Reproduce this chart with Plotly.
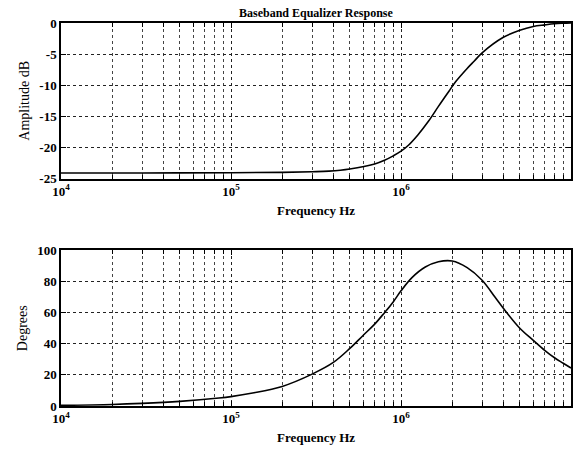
import plotly.graph_objects as go
from plotly.subplots import make_subplots

# ---- data ----
freq_amp = [1e4, 3e4, 1e5, 2e5, 3e5, 3.77e5, 5e5, 7e5, 8e5, 9e5, 1e6, 1.11e6,
            1.26e6, 1.45e6, 1.66e6, 1.91e6, 2.1e6, 2.45e6, 2.7e6, 3e6, 4e6, 5e6,
            6e6, 7e6, 8e6, 9e6, 1e7]
amp_db = [-24.1, -24.1, -24.05, -24.0, -23.9, -23.8, -23.45, -22.65, -22.06, -21.35,
          -20.6, -19.6, -17.95, -15.8, -13.4, -11.0, -9.4, -7.3, -6.1, -4.8, -2.3,
          -1.15, -0.55, -0.3, -0.12, -0.04, 0.0]

freq_phase = [1e4, 2e4, 3e4, 5e4, 8.5e4, 1e5, 1.34e5, 2e5, 3e5, 4e5, 5e5, 6e5,
              7e5, 8e5, 9e5, 1e6, 1.16e6, 1.39e6, 1.66e6, 2e6, 2.45e6, 3e6,
              3.57e6, 4e6, 5e6, 6e6, 7e6, 8e6, 9e6, 1e7]
phase_deg = [0.4, 1.0, 1.7, 3.0, 5.1, 6.0, 8.3, 12.6, 20.5, 28.0, 37.0, 45.5,
             52.6, 60.0, 66.9, 74.0, 82.5, 89.3, 92.7, 93.2, 88.9, 80.8,
             70.0, 62.8, 50.0, 42.2, 35.8, 31.0, 27.5, 24.4]

x_tickvals = [1e4, 1e5, 1e6, 1e7]
x_ticktext = ["10<sup>4</sup>", "10<sup>5</sup>", "10<sup>6</sup>", "10<sup>7</sup>"]
amp_ticks = [-25, -20, -15, -10, -5, 0]
amp_ticktext = ["-25", "-20", "-15", "-10", "-5", "0"]
deg_ticks = [0, 20, 40, 60, 80, 100]
minor_vals = [m * 10 ** e for e in (4, 5, 6) for m in range(2, 10)]

title_text = "Baseband Equalizer Response"
x_title = "Frequency Hz"
y_title_top = "Amplitude dB"
y_title_bot = "Degrees"

FONT = "Liberation Serif"

fig = make_subplots(rows=2, cols=1, vertical_spacing=0.1875)

fig.add_trace(go.Scatter(x=freq_amp, y=amp_db, mode="lines",
                         line=dict(color="black", width=1.6, shape="spline", smoothing=1.0),
                         showlegend=False), row=1, col=1)
fig.add_trace(go.Scatter(x=freq_phase, y=phase_deg, mode="lines",
                         line=dict(color="black", width=1.6, shape="spline", smoothing=1.0),
                         showlegend=False), row=2, col=1)

xcommon = dict(type="log", range=[4, 7], tickmode="array", tickvals=x_tickvals,
               ticktext=x_ticktext, showgrid=True, gridcolor="#222", gridwidth=1,
               griddash="dot", showline=True, linecolor="black", linewidth=1.5,
               mirror="allticks", ticks="inside", ticklen=5, tickcolor="black",
               tickfont=dict(family=FONT, size=13, color="black", weight="bold"),
               zeroline=False,
               minor=dict(tickmode="array", tickvals=minor_vals, showgrid=True,
                          gridcolor="#444", gridwidth=1, griddash="dot",
                          ticks="inside", ticklen=4, tickcolor="black"),
               title=dict(text=x_title, standoff=8,
                          font=dict(family=FONT, size=13, color="black", weight="bold")))

fig.update_xaxes(**xcommon)

ycommon = dict(showgrid=True, gridcolor="#222", gridwidth=1, griddash="dot",
               showline=True, linecolor="black", linewidth=1.5, mirror="allticks",
               ticks="inside", ticklen=5, tickcolor="black", zeroline=False,
               tickfont=dict(family=FONT, size=13, color="black", weight="bold"))
fig.update_yaxes(**ycommon)
fig.update_yaxes(range=[-25, 0], tickmode="array", tickvals=amp_ticks,
                 ticktext=amp_ticktext, row=1, col=1,
                 title=dict(text=y_title_top, standoff=6,
                            font=dict(family=FONT, size=14, color="black")))
fig.update_yaxes(range=[0, 100], tickmode="array", tickvals=deg_ticks, row=2, col=1,
                 title=dict(text=y_title_bot, standoff=6,
                            font=dict(family=FONT, size=14, color="black")))

fig.update_layout(
    width=580, height=450,
    margin=dict(l=61, r=7, t=23, b=43),
    paper_bgcolor="white", plot_bgcolor="white",
    font=dict(family=FONT, color="black"),
    annotations=[dict(text=title_text, x=0.5, y=1.0, xref="paper", yref="paper",
                      xanchor="center", yanchor="bottom", yshift=1, showarrow=False,
                      font=dict(family=FONT, size=12, color="black", weight="bold"))],
)

fig.write_html("out.html")
